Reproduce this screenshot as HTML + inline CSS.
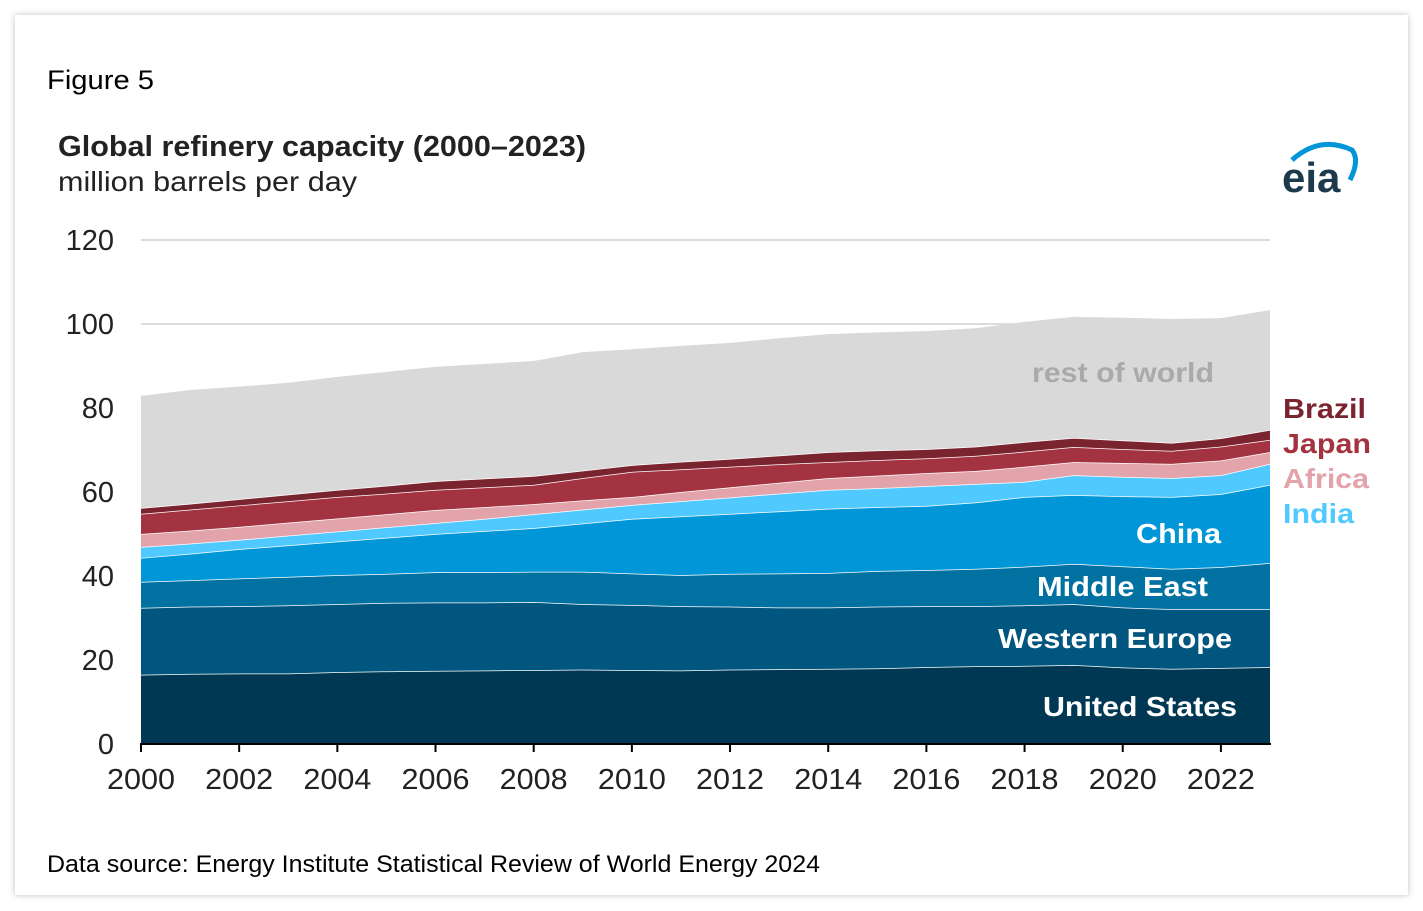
<!DOCTYPE html>
<html><head><meta charset="utf-8"><style>
body{margin:0;background:#fff;width:1423px;height:911px;overflow:hidden;font-family:"Liberation Sans",sans-serif}
.card{position:absolute;left:15px;top:15px;width:1393px;height:880px;background:#fff;box-shadow:0 0 6px rgba(0,0,0,0.25)}
</style></head><body>
<div class="card"></div>
<svg width="1423" height="911" style="position:absolute;left:0;top:0">
<text x="47" y="89" font-size="27" fill="#000" textLength="107" lengthAdjust="spacingAndGlyphs">Figure 5</text>
<text x="58" y="156" font-size="29" font-weight="bold" fill="#222" textLength="528" lengthAdjust="spacingAndGlyphs">Global refinery capacity (2000–2023)</text>
<text x="58" y="191" font-size="28" fill="#222" textLength="299" lengthAdjust="spacingAndGlyphs">million barrels per day</text>
<g>
<text x="1282" y="192" font-size="42" font-weight="bold" fill="#1d3a4c">eia</text>
<path d="M1292 160 Q1320 135 1352 150 Q1360 160 1350 180" fill="none" stroke="#0096d7" stroke-width="5"/>
</g>
<g id="grid"></g><g id="areas"></g><g id="axes"></g>
<g font-weight="bold" font-size="28">
<text x="1032" y="382" textLength="182" lengthAdjust="spacingAndGlyphs" fill="#aaa">rest of world</text>
<text x="1283" y="418" textLength="83" lengthAdjust="spacingAndGlyphs" fill="#7a2430">Brazil</text>
<text x="1283" y="453" textLength="88" lengthAdjust="spacingAndGlyphs" fill="#a33340">Japan</text>
<text x="1283" y="488" textLength="86" lengthAdjust="spacingAndGlyphs" fill="#e3a3ab">Africa</text>
<text x="1283" y="523" textLength="71" lengthAdjust="spacingAndGlyphs" fill="#4fc9ff">India</text>
<text x="1136" y="543" textLength="85" lengthAdjust="spacingAndGlyphs" fill="#fff">China</text>
<text x="1037" y="596" textLength="171" lengthAdjust="spacingAndGlyphs" fill="#fff">Middle East</text>
<text x="998" y="648" textLength="234" lengthAdjust="spacingAndGlyphs" fill="#fff">Western Europe</text>
<text x="1043" y="716" textLength="194" lengthAdjust="spacingAndGlyphs" fill="#fff">United States</text>
</g>
<text x="47" y="872" font-size="24" fill="#000" textLength="773" lengthAdjust="spacingAndGlyphs">Data source: Energy Institute Statistical Review of World Energy 2024</text>
</svg>
<script>
const years=[2000,2001,2002,2003,2004,2005,2006,2007,2008,2009,2010,2011,2012,2013,2014,2015,2016,2017,2018,2019,2020,2021,2022,2023];
const unitedStates=[16.5,16.7,16.8,16.8,17.1,17.3,17.4,17.5,17.6,17.7,17.6,17.5,17.7,17.8,17.9,18.0,18.3,18.5,18.6,18.8,18.2,17.9,18.1,18.3];
const westernEurope=[15.9,16.0,16.0,16.2,16.2,16.3,16.3,16.2,16.2,15.6,15.5,15.3,15.0,14.7,14.6,14.7,14.5,14.3,14.4,14.5,14.3,14.2,14.0,13.8];
const middleEast=[6.2,6.3,6.6,6.8,6.9,6.9,7.2,7.2,7.2,7.7,7.5,7.4,7.8,8.1,8.2,8.5,8.6,8.9,9.2,9.6,9.8,9.6,10.0,11.0];
const china=[5.7,6.3,7.0,7.5,8.0,8.6,9.1,9.8,10.4,11.5,13.0,14.0,14.3,14.8,15.3,15.2,15.3,15.8,16.6,16.4,16.7,17.1,17.4,18.6];
const india=[2.6,2.4,2.2,2.3,2.4,2.5,2.6,2.9,3.3,3.3,3.3,3.6,3.9,4.2,4.5,4.5,4.7,4.4,3.6,4.7,4.6,4.5,4.5,5.0];
const africa=[3.1,3.1,3.1,3.1,3.1,3.1,3.1,2.8,2.4,2.2,1.9,2.2,2.4,2.6,2.8,3.0,3.1,3.1,3.6,3.1,3.3,3.4,3.5,2.8];
const japan=[4.8,5.0,5.1,5.1,5.1,4.9,4.8,4.7,4.6,5.3,6.0,5.4,4.9,4.4,3.8,3.7,3.5,3.6,3.6,3.6,3.3,3.1,3.3,2.9];
const brazil=[1.4,1.4,1.5,1.6,1.7,1.9,2.1,2.1,2.1,1.8,1.6,1.8,1.9,2.1,2.4,2.3,2.2,2.2,2.3,2.2,2.1,1.9,2.0,2.4];
const restOfWorld=[26.7,27.1,26.8,26.6,26.9,27.1,27.2,27.3,27.4,28.2,27.6,27.6,27.6,27.9,28.1,28.1,28.1,28.2,28.6,28.8,29.2,29.5,28.6,28.5];
const yTicks=[0,20,40,60,80,100,120];
const xTickYears=[2000,2002,2004,2006,2008,2010,2012,2014,2016,2018,2020,2022];

const NS='http://www.w3.org/2000/svg';
const x=v=>141+(v-2000)*(1270-141)/23;
const y=v=>744-v*4.2;
function mk(tag,attrs,parent){const e=document.createElementNS(NS,tag);for(const k in attrs)e.setAttribute(k,attrs[k]);parent.appendChild(e);return e;}
const grid=document.getElementById('grid'),areas=document.getElementById('areas'),axes=document.getElementById('axes');
yTicks.forEach(t=>{
  if(t>0){const l=mk('line',{x1:141,x2:1270,y1:y(t),y2:y(t),stroke:'#d0d0d0','stroke-width':1.5},grid);
  
  }
  const tx=mk('text',{x:114,y:y(t)+10,'text-anchor':'end','font-size':29,fill:'#222'},axes);
  tx.textContent=t;
  
  
});
const series=[['united-states',unitedStates,'#003853'],['western-europe',westernEurope,'#00567e'],['middle-east',middleEast,'#0071a0'],['china',china,'#0096d7'],['india',india,'#4fc9ff'],['africa',africa,'#e3a3ab'],['japan',japan,'#a33340'],['brazil',brazil,'#7a2430'],['rest-of-world',restOfWorld,'#d9d9d9']];
let base=years.map(()=>0);
series.forEach(([name,vals,col])=>{
  const top=base.map((b,i)=>b+vals[i]);
  let d='M'+years.map((yr,i)=>x(yr)+','+y(top[i])).join('L');
  for(let i=years.length-1;i>=0;i--)d+='L'+x(years[i])+','+y(base[i]);
  d+='Z';
  const p=mk('path',{d:d,fill:col},areas);
  
  
  if(name!=='rest-of-world'){
    const l=mk('polyline',{points:years.map((yr,i)=>x(yr)+','+y(top[i])).join(' '),fill:'none',stroke:'#fff','stroke-width':1.5},areas);
    
    
  }
  base=top;
});
const ax=mk('line',{x1:140,x2:1271,y1:744,y2:744,stroke:'#000','stroke-width':2},axes);


xTickYears.forEach(yr=>{
  const t=mk('line',{x1:x(yr),x2:x(yr),y1:744,y2:752,stroke:'#000','stroke-width':2},axes);
  
  
  const tx=mk('text',{x:x(yr),y:789,'text-anchor':'middle','font-size':29,fill:'#222',textLength:68,lengthAdjust:'spacingAndGlyphs'},axes);
  tx.textContent=yr;
  
  
});
</script>
</body></html>
